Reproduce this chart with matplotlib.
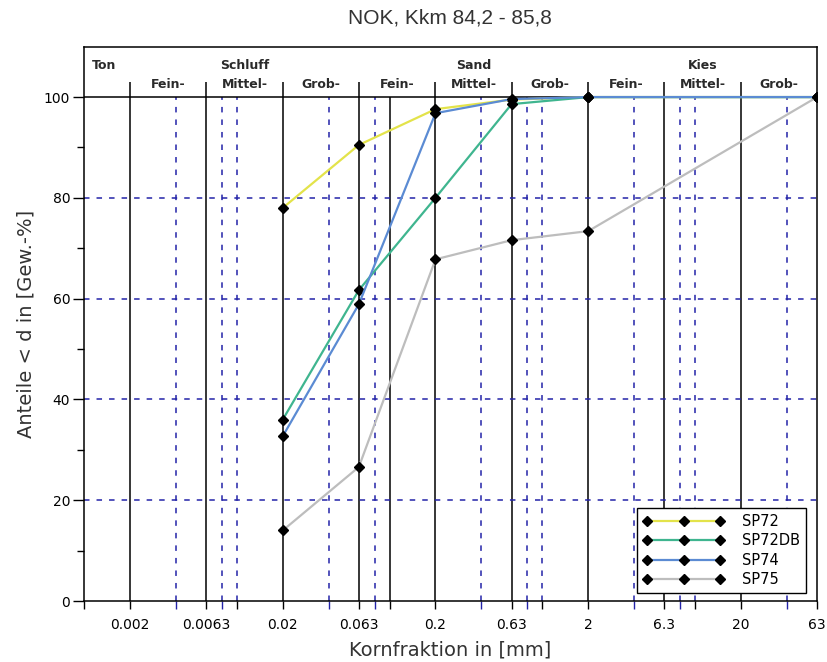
import matplotlib
matplotlib.use("Agg")
import matplotlib.pyplot as plt
from matplotlib.ticker import FixedLocator, NullFormatter

# sieve fractions (mm) and cumulative passing (%)
sizes = [0.02, 0.063, 0.2, 0.63, 2, 63]
sp72 = [78.0, 90.5, 97.6, 99.5, 100, 100]
sp72db = [36.0, 61.7, 80.0, 98.6, 100, 100]
sp74 = [32.7, 58.9, 96.8, 99.6, 100, 100]
sp75 = [14.0, 26.6, 67.8, 71.6, 73.4, 100]

series_names = ["SP72", "SP72DB", "SP74", "SP75"]
series_colors = ["#e3e34a", "#3fb58f", "#5b8bd3", "#bdbdbd"]

black_lines = [0.002, 0.0063, 0.02, 0.063, 0.1, 0.2, 0.63, 2, 6.3, 20]
blue_lines = [0.004, 0.008, 0.01, 0.04, 0.08, 0.4, 0.8, 1, 4, 8, 10, 40]
major_ticks = [0.001, 0.002, 0.0063, 0.01, 0.02, 0.063, 0.1, 0.2, 0.63, 1, 2, 6.3, 10, 20, 63]
major_labels = ["", "0.002", "0.0063", "", "0.02", "0.063", "", "0.2", "0.63", "", "2", "6.3", "", "20", "63"]
minor_ticks = [0.004, 0.008, 0.04, 0.08, 0.4, 0.8, 4, 8, 40]

# header: fraction boundaries and names
bounds = [0.001, 0.002, 0.0063, 0.02, 0.063, 0.2, 0.63, 2, 6.3, 20, 63]
sub_names = ["", "Fein-", "Mittel-", "Grob-", "Fein-", "Mittel-", "Grob-", "Fein-", "Mittel-", "Grob-"]
main_names = {2: "Schluff", 5: "Sand", 8: "Kies"}

blue = "#2323a8"
dash = (0, (3.6, 4.6))

plt.rcParams["font.family"] = ["DejaVu Sans"]

fig = plt.figure(figsize=(8.27, 6.62), dpi=100)
ax = fig.add_axes([0.1016, 0.0921, 0.8864, 0.8374])

ax.set_xscale("log")
ax.set_xlim(0.001, 63)
ax.set_ylim(0, 110)

# grid
ax.vlines(black_lines, 0, 100, colors="black", linewidth=1.1, zorder=1)
ax.vlines(blue_lines, 0, 100, colors=blue, linewidth=1.1, linestyles=[dash], zorder=1)
ax.hlines([20, 40, 60, 80], 0.001, 63, colors=blue, linewidth=1.1, linestyles=[dash], zorder=1)
ax.hlines(100, 0.001, 63, colors="black", linewidth=1.1, zorder=1)

# header separators and names
hdr = dict(fontsize=9, fontweight="bold", color="#2a2a2a", va="baseline")
ax.vlines(bounds[1:-1], 100, 103, colors="black", linewidth=1.1)
ax.text(0.00112, 105.5, "Ton", ha="left", **hdr)
for i in range(1, len(bounds) - 1):
    xc = (bounds[i] * bounds[i + 1]) ** 0.5
    ax.text(xc, 101.8, sub_names[i], ha="center", **hdr)
    if i in main_names:
        ax.text(xc, 105.5, main_names[i], ha="center", **hdr)

# data
for vals, name, col in zip([sp72, sp72db, sp74, sp75], series_names, series_colors):
    ax.plot(sizes, vals, color=col, linewidth=1.6, marker="D", markersize=5,
            markerfacecolor="black", markeredgecolor="black", label=name, zorder=3)

# ticks
ax.xaxis.set_major_locator(FixedLocator(major_ticks))
ax.set_xticklabels(major_labels)
ax.xaxis.set_minor_locator(FixedLocator(minor_ticks))
ax.xaxis.set_minor_formatter(NullFormatter())
ax.tick_params(axis="x", which="major", length=6, width=1, pad=6, labelsize=10, color="black")
ax.tick_params(axis="x", which="minor", length=6, width=1, color=blue)

ax.set_yticks([0, 20, 40, 60, 80, 100])
ax.set_yticks([10, 30, 50, 70, 90], minor=True)
ax.tick_params(axis="y", which="major", length=8, width=1, pad=2, labelsize=10)
ax.tick_params(axis="y", which="minor", length=5, width=1)

for s in ax.spines.values():
    s.set_linewidth(1.1)

ax.set_xlabel("Kornfraktion in [mm]", fontsize=14, color="#333333", labelpad=6)
ax.set_ylabel("Anteile < d in [Gew.-%]", fontsize=14, color="#333333", labelpad=6)
fig.text(0.544, 0.973, "NOK, Kkm 84,2 - 85,8", ha="center", va="center", fontsize=15,
         family=["Liberation Sans", "DejaVu Sans"], color="#333333")

leg = ax.legend(loc="lower right", bbox_to_anchor=(1 - 11 / 733, 8 / 554), numpoints=3,
                handlelength=5.6, handletextpad=1.2, labelspacing=0.3, borderaxespad=0,
                fontsize=10.5, fancybox=False, framealpha=1, edgecolor="black")
leg.get_frame().set_linewidth(1.0)

fig.savefig("out.png", dpi=100)
